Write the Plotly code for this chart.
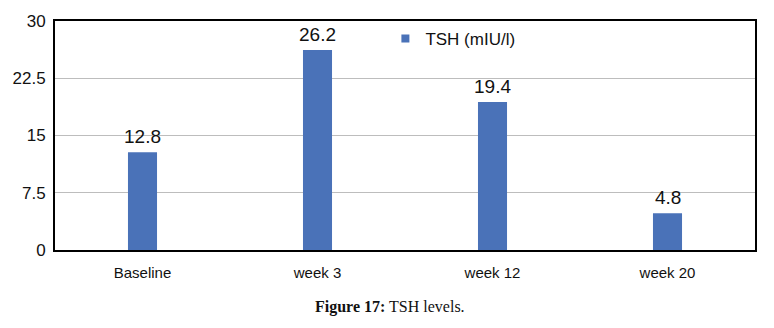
import plotly.graph_objects as go

categories = ["Baseline", "week 3", "week 12", "week 20"]
values = [12.8, 26.2, 19.4, 4.8]
labels = ["12.8", "26.2", "19.4", "4.8"]
series_name = "TSH (mIU/l)"
y_ticks = [0, 7.5, 15, 22.5, 30]
y_tick_text = ["0", "7.5", "15", "22.5", "30"]

FONT = "Liberation Sans, Arial, sans-serif"
BAR_COLOR = "#4a72b8"

fig = go.Figure()
fig.add_trace(go.Bar(
    x=categories, y=values, name=series_name, showlegend=False,
    marker=dict(color=BAR_COLOR, line=dict(width=0)),
    width=0.166,
    cliponaxis=False,
))
# value labels above the bars
for c, v, t in zip(categories, values, labels):
    fig.add_annotation(x=c, y=v, text=t, xref="x", yref="y", showarrow=False,
                       xanchor="center", yanchor="bottom", yshift=3,
                       font=dict(family=FONT, size=19, color="#111111"))
# legend entry (small square symbol like the reference)
fig.add_trace(go.Scatter(
    x=[None], y=[None], mode="markers", name=series_name,
    marker=dict(symbol="square", size=8, color=BAR_COLOR),
))
fig.update_layout(
    width=774, height=328,
    margin=dict(l=55, r=19, t=17, b=78),
    paper_bgcolor="white", plot_bgcolor="white",
    showlegend=True,
    legend=dict(x=0.472, y=1.0, xanchor="left", yanchor="top",
                font=dict(family=FONT, size=17, color="#111111"),
                bgcolor="rgba(0,0,0,0)", itemwidth=30),
    font=dict(family=FONT, size=15, color="#222222"),
    xaxis=dict(showline=True, linecolor="black", linewidth=2, mirror=True,
               ticks="", ticklabelstandoff=8,
               tickfont=dict(size=15, color="#111111"), range=[-0.5, 3.5]),
    yaxis=dict(range=[0, 30], tickvals=y_ticks, ticktext=y_tick_text,
               showgrid=True, gridcolor="#bdbdbd", gridwidth=1,
               showline=True, linecolor="black", linewidth=2, mirror=True,
               ticks="", ticklabelstandoff=4,
               tickfont=dict(size=17, color="#111111"), zeroline=False),
)
fig.add_annotation(
    text="<b>Figure 17:</b> TSH levels.", xref="paper", yref="paper",
    x=(390 - 55) / 700, y=-(308 - 250) / 233, xanchor="center", yanchor="middle",
    showarrow=False,
    font=dict(family="Liberation Serif, Times New Roman, serif", size=16, color="#111111"),
)
fig.write_html("out.html", config={"displayModeBar": False},
               post_script="document.body.style.margin='0';document.body.style.overflow='hidden';")
